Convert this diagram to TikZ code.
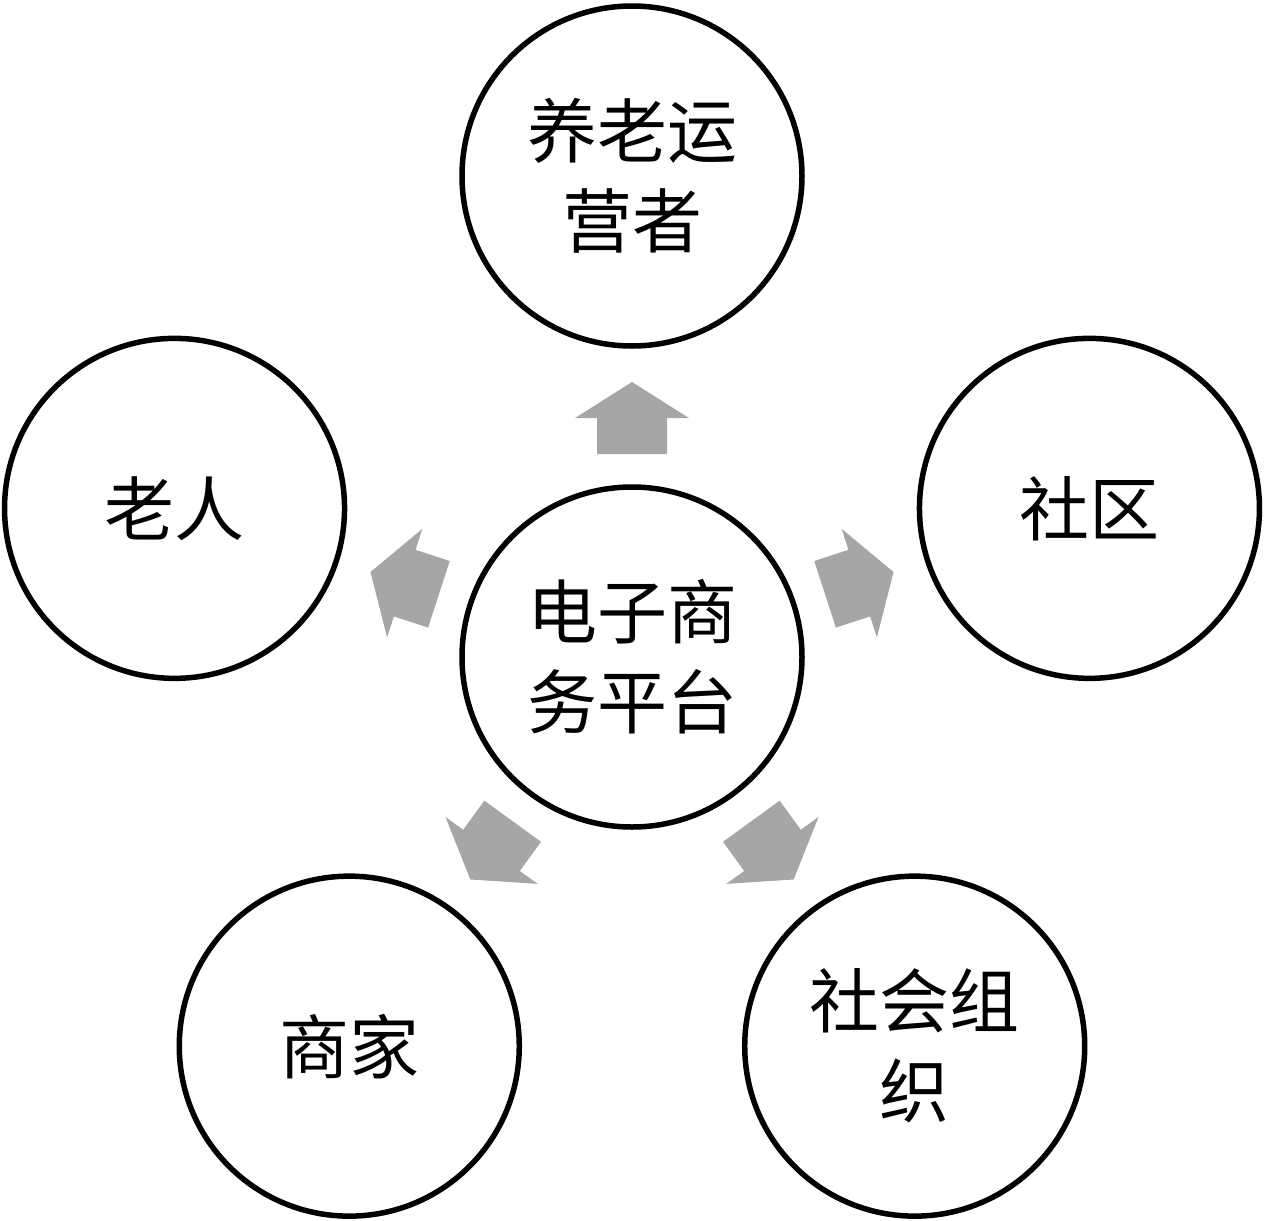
\documentclass[tikz,border=0pt]{standalone}
\usepackage{fontspec}
\usetikzlibrary{calc}
\newfontfamily\cjk{Noto Sans CJK SC}
\begin{document}
\begin{tikzpicture}[x=1pt,y=1pt,
  ring/.style={circle, draw=black, line width=5.5pt, minimum size=340pt, inner sep=0pt,
    align=center, font=\cjk\fontsize{70}{90}\selectfont},
  blockarrow/.style={fill=arrowgray, draw=none}]
\definecolor{arrowgray}{HTML}{A6A6A6}
\useasboundingbox (0,0) rectangle (1267,-1221);
\coordinate (C) at (632,-657);
\node[ring] (c) at (C) {电子商\\务平台};
\node[ring] (top) at ($(C)+(90:481)$) {养老运\\营者};
\node[ring] (left) at ($(C)+(162:481)$) {老人};
\node[ring] (right) at ($(C)+(18:481)$) {社区};
\node[ring] (bl) at ($(C)+(234:481)$) {商家};
\node[ring] (br) at ($(C)+(306:481)$) {社会组\\织};
\foreach \a in {90,162,18,234,306}{
  \fill[blockarrow, shift={(c.center)}, rotate=\a]
    (203,-35) -- (239,-35) -- (239,-57) -- (275,0) -- (239,57) -- (239,35) -- (203,35) -- cycle;
}
\end{tikzpicture}
\end{document}
